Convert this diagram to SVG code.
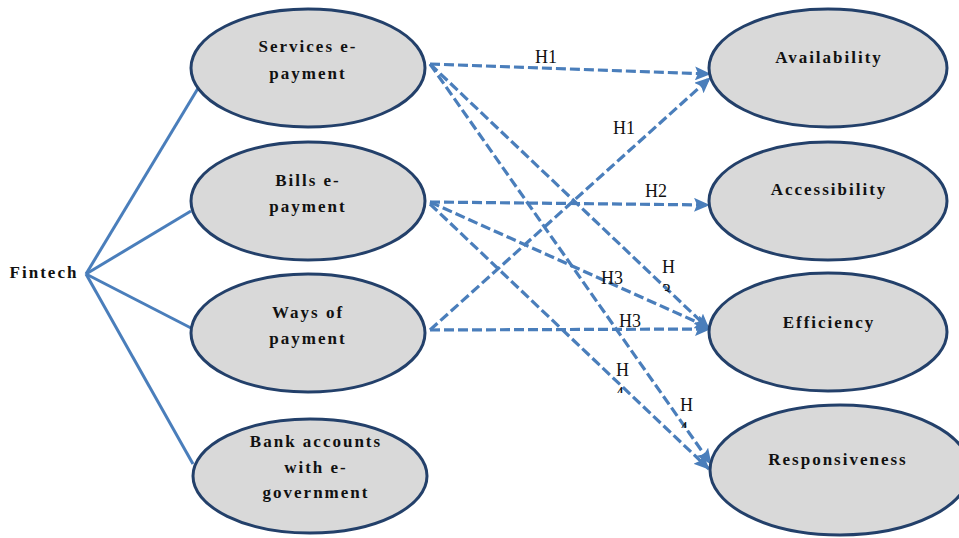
<svg xmlns="http://www.w3.org/2000/svg" width="959" height="538" viewBox="0 0 959 538">
<style>
.node ellipse{fill:#D9D9D9;stroke:#23406A;stroke-width:3}
.lbl{font-family:"Liberation Serif","Times New Roman",serif;font-weight:bold;font-size:17px;letter-spacing:2px;fill:#111;text-anchor:middle}
.h{font-family:"Liberation Serif","Times New Roman",serif;font-size:18px;fill:#111}
.solid line{stroke:#4A7EBB;stroke-width:3}
.dash line{stroke:#4A7EBB;stroke-width:3.2;stroke-dasharray:10 4;marker-end:url(#arr)}
</style>
<defs>
<marker id="arr" markerUnits="userSpaceOnUse" markerWidth="16" markerHeight="14" viewBox="0 0 16 14" refX="15" refY="7" orient="auto">
<path d="M0,0 L16,7 L0,14 L3,7 Z" fill="#4A7EBB"/>
</marker>
<clipPath id="c1"><rect x="660" y="284" width="14" height="8"/></clipPath>
<clipPath id="c2"><rect x="615" y="387" width="12" height="6"/></clipPath>
<clipPath id="c3"><rect x="679" y="422" width="12" height="6"/></clipPath>
</defs>

<g id="connectors">
<g class="solid">
<line x1="86" y1="274" x2="200" y2="85"/>
<line x1="86" y1="274" x2="191" y2="211"/>
<line x1="86" y1="274" x2="191" y2="328"/>
<line x1="86" y1="274" x2="193" y2="464"/>
</g>
<g class="dash">
<line x1="430" y1="64" x2="710" y2="74"/>
<line x1="430" y1="330" x2="710" y2="78"/>
<line x1="430" y1="202" x2="709" y2="205"/>
<line x1="430" y1="202" x2="710" y2="328"/>
<line x1="430" y1="330" x2="710" y2="329"/>
<line x1="430" y1="64" x2="709" y2="329"/>
<line x1="430" y1="64" x2="711" y2="464"/>
<line x1="430" y1="204" x2="709" y2="469"/>
</g>
<g id="edge-labels">
<text class="h" x="535" y="63">H1</text>
<text class="h" x="613" y="134">H1</text>
<text class="h" x="645" y="197">H2</text>
<text class="h" x="601" y="284">H3</text>
<text class="h" x="619" y="327">H3</text>
<text class="h" x="662" y="273">H</text>
<text class="h" x="662" y="297" clip-path="url(#c1)">3</text>
<text class="h" x="616" y="376">H</text>
<text class="h" x="615" y="400" clip-path="url(#c2)">4</text>
<text class="h" x="680" y="411">H</text>
<text class="h" x="679" y="435" clip-path="url(#c3)">4</text>
</g>
</g>

<g id="fintech"><text class="lbl" x="44" y="278">Fintech</text></g>

<g id="services" class="node"><ellipse cx="308" cy="68" rx="117" ry="59"/>
<text class="lbl" x="308" y="52">Services e-</text><text class="lbl" x="308" y="79">payment</text></g>
<g id="bills" class="node"><ellipse cx="308" cy="201" rx="117" ry="59"/>
<text class="lbl" x="308" y="186">Bills e-</text><text class="lbl" x="308" y="212">payment</text></g>
<g id="ways" class="node"><ellipse cx="308" cy="333" rx="117" ry="59"/>
<text class="lbl" x="308" y="318">Ways of</text><text class="lbl" x="308" y="344">payment</text></g>
<g id="bank" class="node"><ellipse cx="310" cy="476" rx="117" ry="57"/>
<text class="lbl" x="316" y="447">Bank accounts</text><text class="lbl" x="316" y="473">with e-</text><text class="lbl" x="316" y="498">government</text></g>

<g id="availability" class="node"><ellipse cx="828" cy="68" rx="119" ry="59"/>
<text class="lbl" x="829" y="63">Availability</text></g>
<g id="accessibility" class="node"><ellipse cx="828" cy="201" rx="119" ry="59"/>
<text class="lbl" x="829" y="195">Accessibility</text></g>
<g id="efficiency" class="node"><ellipse cx="828" cy="332" rx="119" ry="59"/>
<text class="lbl" x="829" y="328">Efficiency</text></g>
<g id="responsiveness" class="node"><ellipse cx="840" cy="470" rx="130" ry="65"/>
<text class="lbl" x="838" y="465">Responsiveness</text></g>
</svg>
